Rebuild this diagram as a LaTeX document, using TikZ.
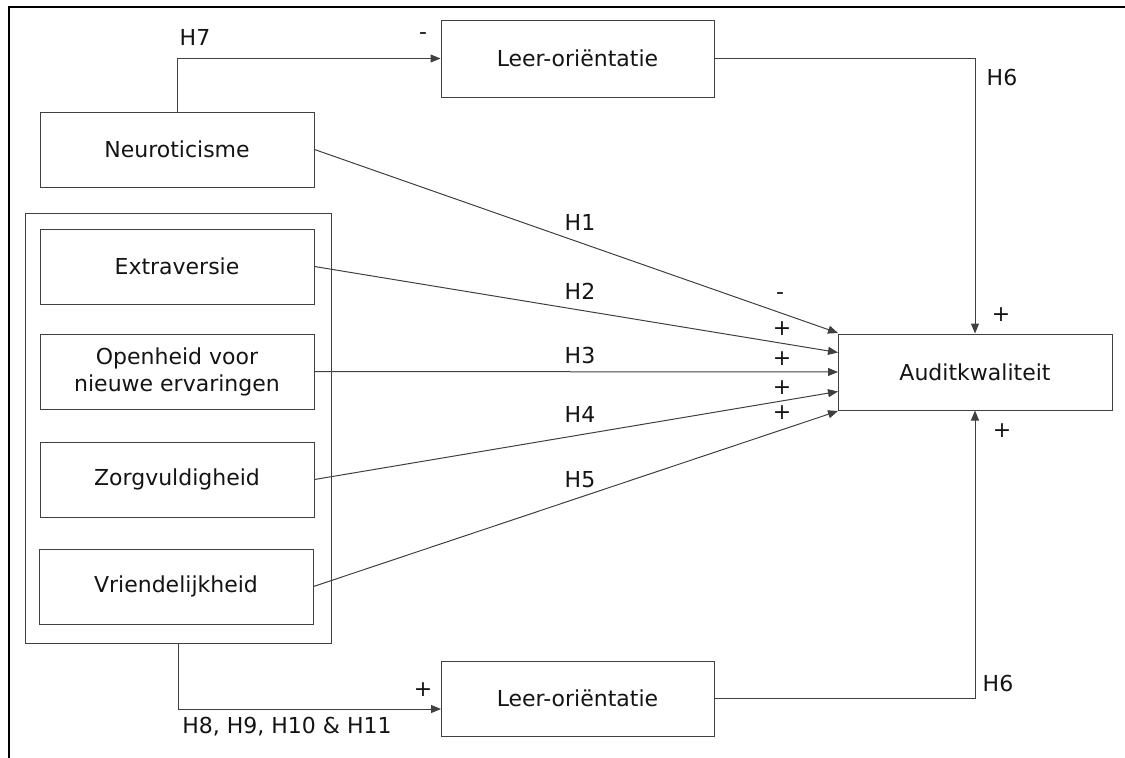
\documentclass[tikz,border=0pt]{standalone}
\usepackage{fontspec}
\setmainfont{DejaVu Sans}
\usetikzlibrary{arrows.meta,calc}
\definecolor{boxgray}{HTML}{404040}
\definecolor{txt}{HTML}{141414}
\tikzset{
  box/.style={draw=boxgray, line width=1pt, rectangle, inner sep=0pt, align=center,
    minimum width=274pt, minimum height=75pt, text=txt,
    font=\fontsize{22}{27}\selectfont},
  lbl/.style={inner sep=0pt, text=txt, font=\fontsize{22}{27}\selectfont},
  conn/.style={draw=boxgray, line width=1pt},
  arr/.style={conn, -{Triangle[length=10pt,width=8pt]}},
}
\begin{document}
\begin{tikzpicture}[x=1pt,y=-1pt]
\useasboundingbox (0,0) rectangle (1125,758);
% frame
\draw[black, line width=2.2pt, line join=miter] (9,758) -- (9,7) -- (1125,7);

% nodes
\node[box] (neuro) at (177,149.5) {Neuroticisme};
\node[box, minimum width=306pt, minimum height=430pt] (group) at (178,428) {};
\node[box] (extra) at (177,266.5) {Extraversie};
\node[box] (open) at (177,371.5) {Openheid voor\\nieuwe ervaringen};
\node[box] (zorg) at (177,479.5) {Zorgvuldigheid};
\node[box] (vriend) at (176,586.5) {Vriendelijkheid};
\node[box, minimum width=273pt, minimum height=77pt] (leer1) at (577.5,58.5) {Leer-oriëntatie};
\node[box, minimum width=273pt] (leer2) at (577.5,698.5) {Leer-oriëntatie};
\node[box, minimum width=274pt, minimum height=76pt] (audit) at (975,372) {Auditkwaliteit};

% arrow end points on audit
\coordinate (a1) at (838,333);
\coordinate (a2) at (838,352.5);
\coordinate (a3) at (838,372);
\coordinate (a4) at (838,391.5);
\coordinate (a5) at (838,411);
\coordinate (l2in) at (441,709);

% connectors
\draw[arr] (neuro.north) |- (leer1.west);
\draw[arr] (group.south) |- (l2in);
\draw[arr] (leer1.east) -| (audit.north);
\draw[arr] (leer2.east) -| (audit.south);
\draw[arr] (neuro.east) -- (a1);
\draw[arr] (extra.east) -- (a2);
\draw[arr] (open.east) -- (a3);
\draw[arr] (zorg.east) -- (a4);
\draw[arr] (vriend.east) -- (a5);

% labels
\node[lbl] (h7) at (195,37) {H7};
\node[lbl] (m7) at (423,36) {-};
\node[lbl] (h6a) at (1002,77) {H6};
\node[lbl] (p6a) at (1001,315) {+};
\node[lbl] (h6b) at (998,683) {H6};
\node[lbl] (p6b) at (1002,431) {+};
\node[lbl] (h1) at (580,222) {H1};
\node[lbl] (h2) at (580,291) {H2};
\node[lbl] (h3) at (580,355) {H3};
\node[lbl] (h4) at (580,414) {H4};
\node[lbl] (h5) at (580,480) {H5};
\node[lbl] (s1) at (780,296) {-};
\node[lbl] (s2) at (782,329) {+};
\node[lbl] (s3) at (782,359) {+};
\node[lbl] (s4) at (782,388) {+};
\node[lbl] (s5) at (782,413) {+};
\node[lbl] (p8) at (423,690) {+};
\node[lbl] (h8) at (287,727) {H8, H9, H10 \& H11};
\end{tikzpicture}
\end{document}
